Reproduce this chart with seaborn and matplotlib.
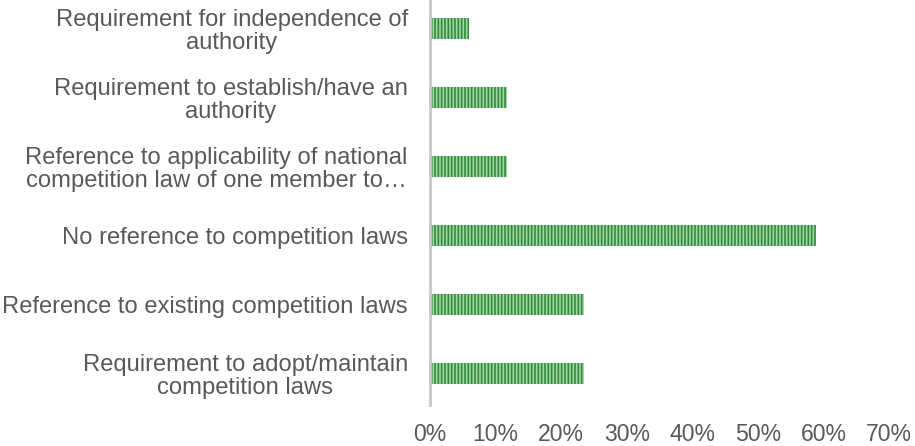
import matplotlib
matplotlib.use("Agg")
import matplotlib.pyplot as plt
from matplotlib.ticker import FuncFormatter
import seaborn as sns
import pandas as pd

categories = [
    "Requirement for independence of\nauthority",
    "Requirement to establish/have an\nauthority",
    "Reference to applicability of national\ncompetition law of one member to…",
    "No reference to competition laws",
    "Reference to existing competition laws",
    "Requirement to adopt/maintain\ncompetition laws",
]
shares = [5.9, 11.8, 11.8, 58.8, 23.5, 23.5]
x_ticks = [0, 10, 20, 30, 40, 50, 60, 70]

sns.set_theme(style="white")
plt.rcParams["font.family"] = ["Liberation Sans", "DejaVu Sans"]
plt.rcParams["hatch.linewidth"] = 1.2

df = pd.DataFrame({"category": categories, "share": shares})

fig = plt.figure(figsize=(9.15, 4.46), dpi=100)
ax = fig.add_axes([0.47, 0.092, 0.9716 - 0.47, 0.908])

sns.barplot(data=df, y="category", x="share", orient="h", ax=ax,
            color="#a3d8a4", width=0.31, saturation=1)
for bar in ax.patches:
    bar.set_hatch("|||||")
    bar.set_edgecolor("#2f8a3c")
    bar.set_linewidth(0)

ax.set_xlim(0, 70)
ax.set_ylim(5.457, -0.413)
ax.set_xticks(x_ticks)
ax.xaxis.set_major_formatter(FuncFormatter(lambda v, p: f"{v:.0f}%"))
ax.set_xlabel("")
ax.set_ylabel("")

for s in ["top", "right", "bottom"]:
    ax.spines[s].set_visible(False)
ax.spines["left"].set_color("#c8c8c8")
ax.spines["left"].set_linewidth(2.0)

ax.tick_params(axis="x", length=0, pad=13, labelsize=16.6, labelcolor="#595959")
ax.tick_params(axis="y", length=0, pad=16, labelsize=17.1, labelcolor="#595959")
for t in ax.get_yticklabels():
    t.set_multialignment("center")
    t.set_linespacing(1.05)

fig.savefig("out.png", dpi=100)
